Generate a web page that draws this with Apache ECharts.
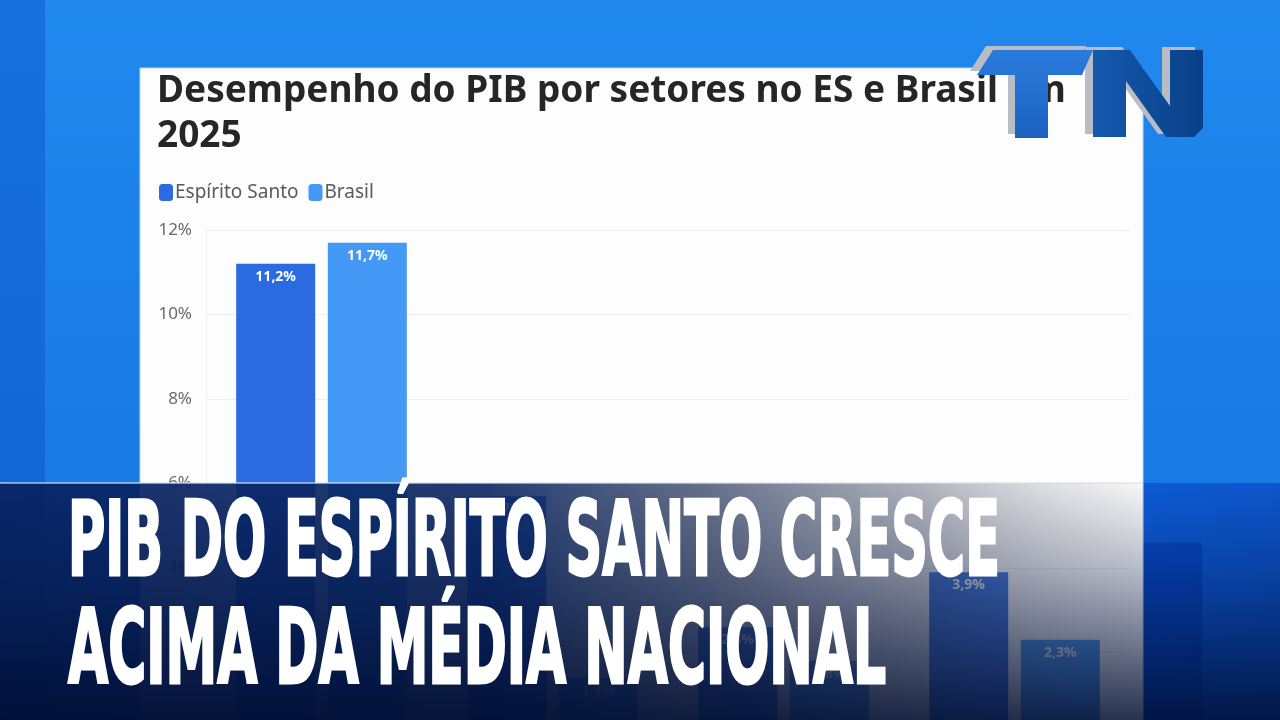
<!DOCTYPE html>
<html><head><meta charset="utf-8">
<script src="https://cdn.jsdelivr.net/npm/echarts@6/dist/echarts.min.js"></script>
<style>
html,body{margin:0;padding:0;width:1280px;height:720px;overflow:hidden;background:#1a7ee8}
#c{position:absolute;left:0;top:0;width:1280px;height:820px}
</style></head>
<body><div id="c"></div>
<script>
// ---- data ----
const categories = ['Agropecuária', 'Indústria', 'Serviços', 'PIB'];
const seriesNames = ['Espírito Santo', 'Brasil'];
const espiritoSanto = [11.2, 5.7, 2.6, 3.9];
const brasil = [11.7, 1.4, 1.8, 2.3];
const yMin = 0, yMax = 12, yStep = 2;
const chartTitle = 'Desempenho do PIB por setores no ES e Brasil em\n2025';
const headline = ['PIB DO ESPÍRITO SANTO CRESCE', 'ACIMA DA MÉDIA NACIONAL'];

// ---- helpers ----
const fmt = v => v.toFixed(1).replace('.', ',') + '%';
const mctx = document.createElement('canvas').getContext('2d');
function scaleFor(text, font, target) { mctx.font = font; return target / mctx.measureText(text).width; }

const headFamily = '"Liberation Sans Narrow","DejaVu Sans Condensed","DejaVu Sans",sans-serif';
const headFont = 'bold 104px ' + headFamily;
const s1 = scaleFor(headline[0], headFont, 932);
const s2 = scaleFor(headline[1], headFont, 818);

// TV channel logo outline (decoration)
const logoT = [[993,50],[1093,50],[1082,75],[1048,75],[1048,138],[1015,138],[1015,75],[977,75]];
const logoN = [[1093,50],[1130,50],[1170,106],[1170,50],[1203,50],[1203,128],[1194,137],[1166,137],[1126,81],[1126,137],[1093,137]];
const shift = (pts, dx, dy) => pts.map(p => [p[0] + dx, p[1] + dy]);

const chart = echarts.init(document.getElementById('c'));
chart.setOption({
  animation: false,
  title: {
    text: chartTitle, left: 152, top: 64,
    textStyle: { fontFamily: 'Noto Sans', fontSize: 37, fontWeight: 'bold', color: '#262626', lineHeight: 45 }
  },
  legend: {
    data: seriesNames, left: 154, top: 178, icon: 'roundRect', itemWidth: 14, itemHeight: 17, itemGap: 10,
    textStyle: { fontFamily: 'Noto Sans', fontSize: 19, color: '#5a5a5a', padding: [0, 0, 0, -3] }
  },
  grid: { left: 206, width: 924, top: 230, height: 507, containLabel: false },
  xAxis: {
    type: 'category', data: categories,
    axisLine: { lineStyle: { color: '#e4e6ee' } }, axisTick: { show: false },
    axisLabel: { color: '#666', fontSize: 15 }
  },
  yAxis: {
    type: 'value', min: yMin, max: yMax, interval: yStep,
    axisLine: { show: true, lineStyle: { color: '#eef0f6' } },
    axisLabel: { formatter: v => v + '%', color: '#6a6a6a', fontSize: 17, margin: 14, fontFamily: 'Noto Sans' },
    splitLine: { lineStyle: { color: '#eceef5' } }
  },
  series: [
    { name: seriesNames[0], type: 'bar', data: espiritoSanto, barWidth: 79, barGap: '16%',
      itemStyle: { color: '#2b6be2' },
      label: { show: true, position: 'insideTop', distance: 6, formatter: p => fmt(p.value), color: '#fff',
        fontWeight: 'bold', fontSize: 14, fontFamily: 'Noto Sans' } },
    { name: seriesNames[1], type: 'bar', data: brasil, barWidth: 79,
      itemStyle: { color: '#4499f6' },
      label: { show: true, position: 'insideTop', distance: 6, formatter: p => fmt(p.value), color: '#fff',
        fontWeight: 'bold', fontSize: 14, fontFamily: 'Noto Sans' } }
  ],
  graphic: { elements: [
    // background
    { type: 'rect', z: -10, shape: { x: 0, y: 0, width: 1280, height: 820 },
      style: { fill: new echarts.graphic.LinearGradient(0, 0, 0, 1, [
        { offset: 0, color: '#2089ee' }, { offset: 1, color: '#136fdc' }]) } },
    { type: 'rect', z: -9, shape: { x: 0, y: 0, width: 45, height: 820 }, style: { fill: 'rgba(10,70,190,0.35)' } },
    { type: 'rect', z: -9, shape: { x: 1143, y: 543, width: 59, height: 280 }, style: { fill: 'rgba(0,40,150,0.45)' } },
    // card
    { type: 'rect', z: -5, shape: { x: 140, y: 68, width: 1003, height: 800 },
      style: { fill: '#fdfdfe', stroke: '#bcd8f8', lineWidth: 1 } },
    // banner
    { type: 'rect', z: 100, shape: { x: 0, y: 483, width: 1280, height: 240 },
      style: { fill: new echarts.graphic.LinearGradient(0, 0, 1, 0, [
        { offset: 0, color: 'rgba(8,36,100,0.94)' },
        { offset: 0.38, color: 'rgba(10,38,98,0.90)' },
        { offset: 0.55, color: 'rgba(40,58,95,0.72)' },
        { offset: 0.72, color: 'rgba(80,88,110,0.45)' },
        { offset: 0.86, color: 'rgba(150,150,160,0.15)' },
        { offset: 0.893, color: 'rgba(150,150,160,0.05)' },
        { offset: 0.894, color: 'rgba(0,60,200,0.5)' },
        { offset: 1, color: 'rgba(0,50,180,0.5)' }]) } },
    { type: 'rect', z: 101, shape: { x: 0, y: 483, width: 1280, height: 240 },
      style: { fill: new echarts.graphic.LinearGradient(0, 0, 0, 1, [
        { offset: 0, color: 'rgba(0,15,50,0)' },
        { offset: 0.35, color: 'rgba(0,15,55,0.25)' },
        { offset: 1, color: 'rgba(0,12,45,0.85)' }]) } },
    { type: 'rect', z: 102, shape: { x: 0, y: 482, width: 1143, height: 2 }, style: { fill: 'rgba(220,225,235,0.6)' } },
    { type: 'text', z: 110, x: 68, y: 548, scaleX: s1,
      style: { text: headline[0], font: headFont, fill: '#ffffff', stroke: '#ffffff', lineWidth: 3, verticalAlign: 'middle', align: 'left' } },
    { type: 'text', z: 110, x: 68, y: 656, scaleX: s2,
      style: { text: headline[1], font: headFont, fill: '#ffffff', stroke: '#ffffff', lineWidth: 3, verticalAlign: 'middle', align: 'left' } },
    // logo
    { type: 'polygon', z: 120, shape: { points: shift(logoT, -7, -4) }, style: { fill: '#b8bcc4' } },
    { type: 'polygon', z: 120, shape: { points: shift(logoN, -8, -3) }, style: { fill: '#b8bcc4' } },
    { type: 'polygon', z: 121, shape: { points: logoT },
      style: { fill: new echarts.graphic.LinearGradient(0, 0, 0, 1, [
        { offset: 0, color: '#2a7bdc' }, { offset: 1, color: '#1a62c0' }]) } },
    { type: 'polygon', z: 121, shape: { points: logoN },
      style: { fill: new echarts.graphic.LinearGradient(0, 0, 1, 0, [
        { offset: 0, color: '#145aae' }, { offset: 1, color: '#093f88' }]) } }
  ] }
});
</script>
</body></html>
